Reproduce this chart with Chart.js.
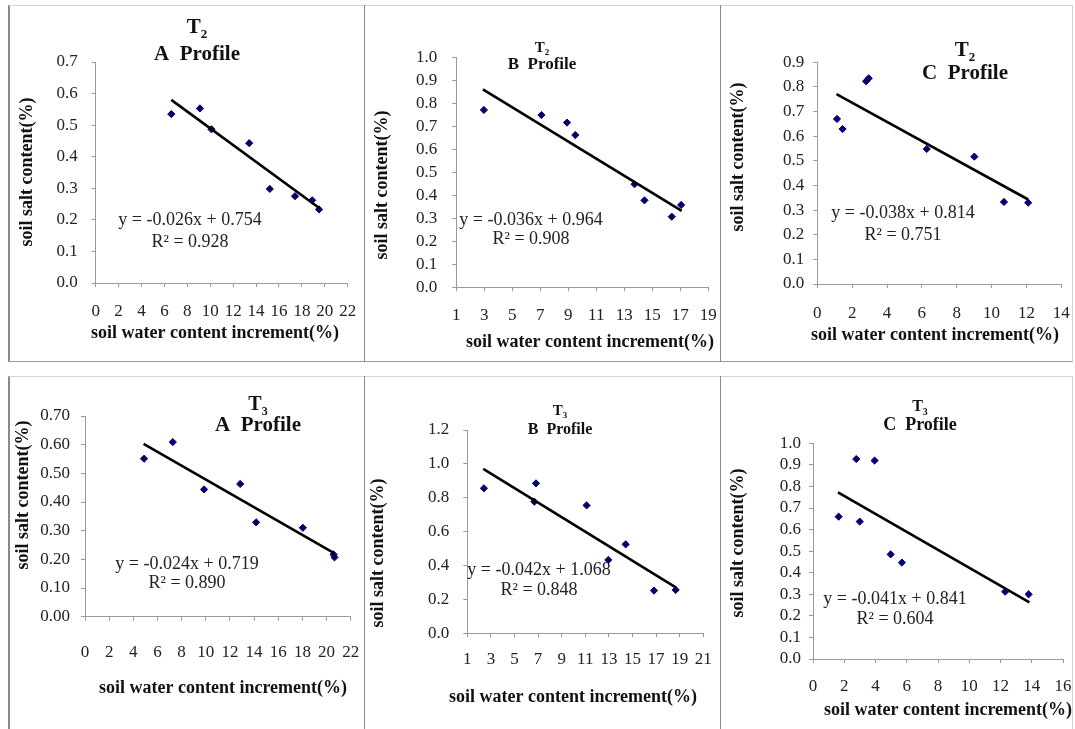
<!DOCTYPE html>
<html>
<head>
<meta charset="utf-8">
<script src="https://cdn.jsdelivr.net/npm/chart.js@4.4.0/dist/chart.umd.min.js"></script>
<style>
  body { margin: 0; background: #fff; width: 1075px; height: 729px; position: relative; overflow: hidden; }
  .row { position: absolute; left: 8px; width: 1065px; box-sizing: border-box;
         border-left: 2px solid #8a8a8a; border-top: 1px solid #d4d4d4; border-right: 1px solid #d4d4d4; }
  #row1 { top: 5px; height: 357px; border-bottom: 1px solid #9a9a9a; }
  #row2 { top: 376px; height: 360px; }
  .vdiv { position: absolute; width: 1px; background: #8a8a8a; }
  canvas { position: absolute; }
</style>
</head>
<body>
<div class="row" id="row1"></div>
<div class="row" id="row2"></div>
<div class="vdiv" style="left:364px;top:5px;height:357px"></div>
<div class="vdiv" style="left:720px;top:5px;height:357px"></div>
<div class="vdiv" style="left:364px;top:376px;height:353px"></div>
<div class="vdiv" style="left:720px;top:376px;height:353px"></div>

<canvas id="c1" width="353" height="354" style="left:10px;top:6px"></canvas>
<canvas id="c2" width="354" height="354" style="left:365px;top:6px"></canvas>
<canvas id="c3" width="351" height="354" style="left:721px;top:6px"></canvas>
<canvas id="c4" width="353" height="352" style="left:10px;top:377px"></canvas>
<canvas id="c5" width="354" height="352" style="left:365px;top:377px"></canvas>
<canvas id="c6" width="351" height="352" style="left:721px;top:377px"></canvas>

<script>
// T2, A profile
const t2aX = [6.6, 9.1, 10.1, 13.4, 15.2, 17.4, 18.9, 19.5];
const t2aY = [0.535, 0.553, 0.487, 0.443, 0.298, 0.275, 0.262, 0.233];
const t2aTrendX = [6.6, 19.6];
const t2aTrendY = [0.58, 0.235];
const t2aXTicks = [0, 2, 4, 6, 8, 10, 12, 14, 16, 18, 20, 22];
const t2aYTicks = ['0.0', '0.1', '0.2', '0.3', '0.4', '0.5', '0.6', '0.7'];
const t2aEq = ['y = -0.026x + 0.754', 'R\u00b2 = 0.928'];

// T2, B profile
const t2bX = [2.97, 7.08, 8.91, 9.5, 13.73, 14.44, 16.39, 17.06];
const t2bY = [0.771, 0.749, 0.716, 0.662, 0.448, 0.378, 0.307, 0.358];
const t2bTrendX = [2.9, 17.1];
const t2bTrendY = [0.861, 0.332];
const t2bXTicks = [1, 3, 5, 7, 9, 11, 13, 15, 17, 19];
const t2bYTicks = ['0.0', '0.1', '0.2', '0.3', '0.4', '0.5', '0.6', '0.7', '0.8', '0.9', '1.0'];
const t2bEq = ['y = -0.036x + 0.964', 'R\u00b2 = 0.908'];

// T2, C profile
const t2cX = [1.13, 1.45, 2.8, 2.95, 6.28, 9.01, 10.71, 12.1];
const t2cY = [0.67, 0.629, 0.823, 0.835, 0.548, 0.517, 0.333, 0.33];
const t2cTrendX = [1.1, 12.1];
const t2cTrendY = [0.771, 0.343];
const t2cXTicks = [0, 2, 4, 6, 8, 10, 12, 14];
const t2cYTicks = ['0.0', '0.1', '0.2', '0.3', '0.4', '0.5', '0.6', '0.7', '0.8', '0.9'];
const t2cEq = ['y = -0.038x + 0.814', 'R\u00b2 = 0.751'];

// T3, A profile
const t3aX = [4.89, 7.27, 9.86, 12.85, 14.17, 18.04, 20.58, 20.66];
const t3aY = [0.551, 0.609, 0.444, 0.463, 0.329, 0.31, 0.217, 0.207];
const t3aTrendX = [4.85, 20.66];
const t3aTrendY = [0.603, 0.221];
const t3aXTicks = [0, 2, 4, 6, 8, 10, 12, 14, 16, 18, 20, 22];
const t3aYTicks = ['0.00', '0.10', '0.20', '0.30', '0.40', '0.50', '0.60', '0.70'];
const t3aEq = ['y = -0.024x + 0.719', 'R\u00b2 = 0.890'];

// T3, B profile
const t3bX = [2.41, 6.82, 6.68, 11.11, 12.95, 14.42, 16.82, 18.66];
const t3bY = [0.856, 0.885, 0.777, 0.755, 0.433, 0.525, 0.252, 0.256];
const t3bTrendX = [2.35, 18.7];
const t3bTrendY = [0.97, 0.27];
const t3bXTicks = [1, 3, 5, 7, 9, 11, 13, 15, 17, 19, 21];
const t3bYTicks = ['0.0', '0.2', '0.4', '0.6', '0.8', '1.0', '1.2'];
const t3bEq = ['y = -0.042x + 1.068', 'R\u00b2 = 0.848'];

// T3, C profile
const t3cX = [1.64, 2.77, 2.99, 3.94, 4.97, 5.69, 12.3, 13.8];
const t3cY = [0.66, 0.927, 0.637, 0.92, 0.485, 0.447, 0.312, 0.3];
const t3cTrendX = [1.6, 13.85];
const t3cTrendY = [0.773, 0.262];
const t3cXTicks = [0, 2, 4, 6, 8, 10, 12, 14, 16];
const t3cYTicks = ['0.0', '0.1', '0.2', '0.3', '0.4', '0.5', '0.6', '0.7', '0.8', '0.9', '1.0'];
const t3cEq = ['y = -0.041x + 0.841', 'R\u00b2 = 0.604'];

const xTitle = 'soil water content increment(%)';
const yTitle = 'soil salt content(%)';
const SERIF = '"Liberation Serif", "Times New Roman", serif';

// layout of each panel, in page pixels
const panels = [
  { id: 'c1', org: [10, 6], x: t2aX, y: t2aY, tx: t2aTrendX, ty: t2aTrendY, xt: t2aXTicks, yt: t2aYTicks, eq: t2aEq,
    area: [95.7, 62, 347.7, 283], xPad: 14, yPad: 14, sub: '2', prof: 'A  Profile', tS: [21, 21], tCx: 197, tY: [28, 55],
    eqPos: [190, 220, 242], xTit: [215, 333], yTit: [27, 172] },
  { id: 'c2', org: [365, 6], x: t2bX, y: t2bY, tx: t2bTrendX, ty: t2bTrendY, xt: t2bXTicks, yt: t2bYTicks, eq: t2bEq,
    area: [456.3, 57.3, 708.3, 287.3], xPad: 14, yPad: 15, sub: '2', prof: 'B  Profile', tS: [15, 17], tCx: 542, tY: [48, 65],
    eqPos: [531, 220, 239], xTit: [590, 342], yTit: [382, 185] },
  { id: 'c3', org: [721, 6], x: t2cX, y: t2cY, tx: t2cTrendX, ty: t2cTrendY, xt: t2cXTicks, yt: t2cYTicks, eq: t2cEq,
    area: [817.3, 62.3, 1061.3, 284], xPad: 15, yPad: 9, sub: '2', prof: 'C  Profile', tS: [21, 21], tCx: 965, tY: [51, 74],
    eqPos: [903, 213, 235], xTit: [935, 335], yTit: [738, 157] },
  { id: 'c4', org: [10, 377], x: t3aX, y: t3aY, tx: t3aTrendX, ty: t3aTrendY, xt: t3aXTicks, yt: t3aYTicks, eq: t3aEq,
    area: [85, 416, 350.7, 616.7], xPad: 22, yPad: 11, sub: '3', prof: 'A  Profile', tS: [20, 21], tCx: 258, tY: [405, 426],
    eqPos: [187, 564, 583], xTit: [223, 688], yTit: [23, 495] },
  { id: 'c5', org: [365, 377], x: t3bX, y: t3bY, tx: t3bTrendX, ty: t3bTrendY, xt: t3bXTicks, yt: t3bYTicks, eq: t3bEq,
    area: [467.3, 430, 703.3, 633.3], xPad: 12, yPad: 14, sub: '3', prof: 'B  Profile', tS: [15, 16], tCx: 560, tY: [411, 430],
    eqPos: [539, 570, 590], xTit: [573, 697], yTit: [378, 553] },
  { id: 'c6', org: [721, 377], x: t3cX, y: t3cY, tx: t3cTrendX, ty: t3cTrendY, xt: t3cXTicks, yt: t3cYTicks, eq: t3cEq,
    area: [813, 443.3, 1063, 659], xPad: 13, yPad: 8, sub: '3', prof: 'C  Profile', tS: [16, 18], tCx: 920, tY: [407, 425],
    eqPos: [895, 599, 619], xTit: [948, 710], yTit: [738, 543] }
];

// draws titles, equation and axis titles at fixed spots
const panelText = {
  id: 'panelText',
  afterDraw(chart, args, o) {
    const ctx = chart.ctx;
    const p = o.p;
    const ox = p.org[0], oy = p.org[1];
    const subSize = Math.round(p.tS[0] * 0.62);
    ctx.save();
    ctx.fillStyle = '#111';
    ctx.textBaseline = 'middle';

    // "T" with subscript
    ctx.font = 'bold ' + p.tS[0] + 'px ' + SERIF;
    const wT = ctx.measureText('T').width;
    ctx.font = 'bold ' + subSize + 'px ' + SERIF;
    const wS = ctx.measureText(p.sub).width;
    const sx = p.tCx - ox - (wT + wS) / 2;
    ctx.textAlign = 'left';
    ctx.font = 'bold ' + p.tS[0] + 'px ' + SERIF;
    ctx.fillText('T', sx, p.tY[0] - oy);
    ctx.font = 'bold ' + subSize + 'px ' + SERIF;
    ctx.fillText(p.sub, sx + wT, p.tY[0] - oy + p.tS[0] * 0.33);
    ctx.textAlign = 'center';
    ctx.font = 'bold ' + p.tS[1] + 'px ' + SERIF;
    ctx.fillText(p.prof, p.tCx - ox, p.tY[1] - oy);

    // regression equation
    ctx.font = '18px ' + SERIF;
    ctx.fillStyle = '#222';
    ctx.fillText(p.eq[0], p.eqPos[0] - ox, p.eqPos[1] - oy);
    ctx.fillText(p.eq[1], p.eqPos[0] - ox, p.eqPos[2] - oy);

    // axis titles
    ctx.fillStyle = '#111';
    ctx.font = 'bold 18px ' + SERIF;
    ctx.fillText(xTitle, p.xTit[0] - ox, p.xTit[1] - oy);
    ctx.translate(p.yTit[0] - ox, p.yTit[1] - oy);
    ctx.rotate(-Math.PI / 2);
    ctx.fillText(yTitle, 0, 0);
    ctx.restore();
  }
};

panels.forEach(function (p) {
  const canvas = document.getElementById(p.id);
  const W = canvas.width, H = canvas.height;
  const left = p.area[0] - p.org[0], top = p.area[1] - p.org[1];
  const right = p.area[2] - p.org[0], bottom = p.area[3] - p.org[1];
  const yVals = p.yt.map(Number);
  const points = p.x.map((v, i) => ({ x: v, y: p.y[i] }));
  const trend = p.tx.map((v, i) => ({ x: v, y: p.ty[i] }));

  new Chart(canvas.getContext('2d'), {
    type: 'scatter',
    data: {
      datasets: [
        {
          data: trend,
          showLine: true,
          borderColor: '#000',
          borderWidth: 2.6,
          pointRadius: 0,
          clip: false
        },
        {
          data: points,
          pointStyle: 'rectRot',
          pointRadius: 3.6,
          backgroundColor: '#00006e',
          borderColor: '#00006e',
          borderWidth: 1,
          clip: false
        }
      ]
    },
    options: {
      responsive: false,
      animation: false,
      events: [],
      layout: { padding: { left: 0, top: top, right: W - right, bottom: 0 } },
      plugins: { legend: { display: false }, tooltip: { enabled: false }, panelText: { p: p } },
      scales: {
        x: {
          type: 'linear',
          min: p.xt[0],
          max: p.xt[p.xt.length - 1],
          afterBuildTicks: s => { s.ticks = p.xt.map(v => ({ value: v })); },
          afterFit: s => { s.height = H - bottom; s.paddingLeft = 0; s.paddingRight = 0; },
          grid: { drawOnChartArea: false, drawTicks: true, tickLength: 4, color: '#9a9a9a' },
          border: { color: '#9a9a9a', width: 1 },
          ticks: {
            padding: p.xPad,
            maxRotation: 0,
            autoSkip: false,
            color: '#222',
            font: { family: SERIF, size: 17 },
            callback: v => String(v)
          }
        },
        y: {
          type: 'linear',
          min: yVals[0],
          max: yVals[yVals.length - 1],
          afterBuildTicks: s => { s.ticks = yVals.map(v => ({ value: v })); },
          afterFit: s => { s.width = left; s.paddingTop = 0; s.paddingBottom = 0; },
          grid: { drawOnChartArea: false, drawTicks: true, tickLength: 4, color: '#9a9a9a' },
          border: { color: '#9a9a9a', width: 1 },
          ticks: {
            padding: p.yPad,
            autoSkip: false,
            color: '#222',
            font: { family: SERIF, size: 17 },
            callback: (v, i) => p.yt[i]
          }
        }
      }
    },
    plugins: [panelText]
  });
});
</script>
</body>
</html>
